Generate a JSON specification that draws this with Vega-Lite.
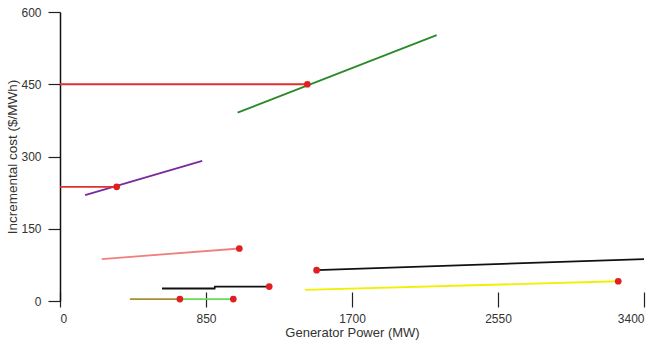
{
  "$schema": "https://vega.github.io/schema/vega-lite/v6.json",
  "autosize": "none",
  "width": 584,
  "height": 289,
  "padding": {"left": 60, "top": 12, "right": 15, "bottom": 44},
  "background": "white",
  "config": {"view": {"stroke": null}, "font": "Liberation Sans"},
  "datasets": {
    "lines": [
      {"s": "g1", "x": 1034, "y": 391, "o": 1}, {"s": "g1", "x": 2193, "y": 552, "o": 2},
      {"s": "h1", "x": 0, "y": 450, "o": 1}, {"s": "h1", "x": 1440, "y": 450, "o": 2},
      {"s": "pu", "x": 146, "y": 220, "o": 1}, {"s": "pu", "x": 828, "y": 291, "o": 2},
      {"s": "h2", "x": 0, "y": 237, "o": 1}, {"s": "h2", "x": 330, "y": 237, "o": 2},
      {"s": "sa", "x": 243, "y": 87, "o": 1}, {"s": "sa", "x": 1044, "y": 109, "o": 2},
      {"s": "b1", "x": 594, "y": 26, "o": 1}, {"s": "b1", "x": 900, "y": 26, "o": 2}, {"s": "b1", "x": 902, "y": 30, "o": 3}, {"s": "b1", "x": 1218, "y": 30, "o": 4},
      {"s": "ol", "x": 407, "y": 4, "o": 1}, {"s": "ol", "x": 698, "y": 4, "o": 2},
      {"s": "lg", "x": 698, "y": 4, "o": 1}, {"s": "lg", "x": 1009, "y": 4, "o": 2},
      {"s": "b2", "x": 1494, "y": 64, "o": 1}, {"s": "b2", "x": 3400, "y": 87, "o": 2},
      {"s": "ye", "x": 1426, "y": 23, "o": 1}, {"s": "ye", "x": 3250, "y": 41, "o": 2}
    ],
    "points": [
      {"x": 1440, "y": 450}, {"x": 330, "y": 237}, {"x": 1044, "y": 109}, {"x": 1218, "y": 30},
      {"x": 698, "y": 4}, {"x": 1009, "y": 4}, {"x": 1494, "y": 64}, {"x": 3250, "y": 41}
    ]
  },
  "layer": [
    {
      "data": {"name": "lines"},
      "mark": {"type": "line", "strokeWidth": 1.8},
      "encoding": {
        "x": {"field": "x", "type": "quantitative",
              "scale": {"domain": [0, 3400], "nice": false, "zero": false},
              "axis": {"values": [0, 850, 1700, 2550, 3400], "format": "d", "domain": false, "grid": false,
                       "offset": -9, "tickSize": 15, "tickColor": "#222", "tickWidth": 1.2,
                       "labelPadding": 6, "labelFontSize": 12, "labelColor": "#333",
                       "title": "Generator Power (MW)", "titleFontSize": 13, "titleFontWeight": "normal",
                       "titleColor": "#333", "titlePadding": 2}},
        "y": {"field": "y", "type": "quantitative",
              "scale": {"domain": [0, 600], "nice": false},
              "axis": {"values": [0, 150, 300, 450, 600], "format": "d", "grid": false, "domainColor": "#111", "domainWidth": 1.5,
                       "tickSize": 12, "tickColor": "#222", "tickWidth": 1.2,
                       "labelPadding": 7, "labelFontSize": 12, "labelColor": "#333",
                       "title": "Incremental cost ($/MWh)", "titleFontSize": 13.5, "titleFontWeight": "normal",
                       "titleColor": "#333", "titlePadding": 1}},
        "color": {"field": "s", "type": "nominal", "legend": null,
                  "scale": {"domain": ["g1", "h1", "pu", "h2", "sa", "b1", "ol", "lg", "b2", "ye"],
                            "range": ["#2a8a2a", "#e03030", "#7a2a9a", "#e03030", "#f08080", "#111111", "#a89030", "#66dd55", "#111111", "#f0f000"]}},
        "order": {"field": "o", "type": "quantitative"}
      }
    },
    {
      "data": {"name": "points"},
      "mark": {"type": "point", "filled": true, "color": "#e02020", "size": 45, "opacity": 1},
      "encoding": {
        "x": {"field": "x", "type": "quantitative"},
        "y": {"field": "y", "type": "quantitative"}
      }
    }
  ]
}
